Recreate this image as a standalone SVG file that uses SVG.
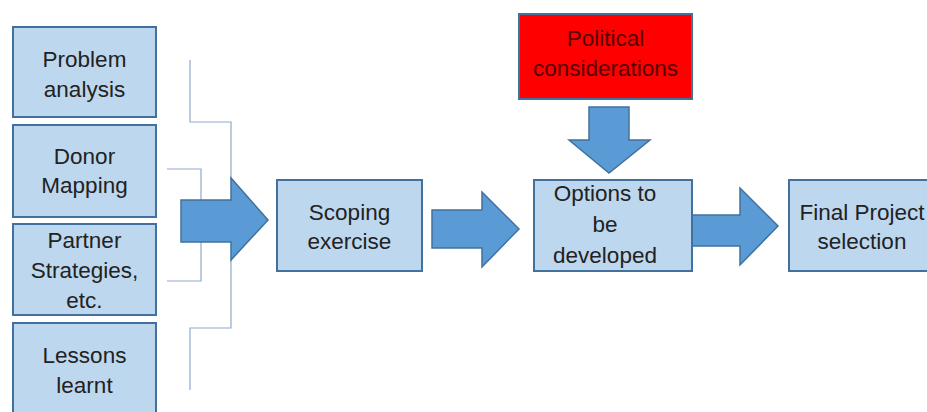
<svg xmlns="http://www.w3.org/2000/svg" width="927" height="412" viewBox="0 0 927 412">
  <style>
    .box { fill: #BDD7EE; stroke: #41719C; stroke-width: 2; }
    .red { fill: #FF0000; stroke: #41719C; stroke-width: 2; }
    .arrow { fill: #5B9BD5; stroke: #41719C; stroke-width: 1.5; }
    .lbl { font-family: "Liberation Sans", Arial, sans-serif; font-size: 22.5px; fill: #222222; text-anchor: middle; }
    .lbl-red { fill: #550000; }
    .bracket { fill: none; stroke: #8FAACC; stroke-width: 1.2; }
  </style>
  <rect width="927" height="412" fill="#FFFFFF"/>

  <!-- input boxes -->
  <g id="problem-analysis">
    <rect class="box" x="13" y="27" width="143" height="90"/>
    <text class="lbl" x="84.5" y="67">Problem</text>
    <text class="lbl" x="84.5" y="97">analysis</text>
  </g>
  <g id="donor-mapping">
    <rect class="box" x="13" y="125" width="143" height="92"/>
    <text class="lbl" x="84.5" y="164">Donor</text>
    <text class="lbl" x="84.5" y="193">Mapping</text>
  </g>
  <g id="partner-strategies">
    <rect class="box" x="13" y="224" width="143" height="91"/>
    <text class="lbl" x="84.5" y="248">Partner</text>
    <text class="lbl" x="84.5" y="278">Strategies,</text>
    <text class="lbl" x="84.5" y="308">etc.</text>
  </g>
  <g id="lessons-learnt">
    <rect class="box" x="13" y="323" width="143" height="95"/>
    <text class="lbl" x="84.5" y="363">Lessons</text>
    <text class="lbl" x="84.5" y="393">learnt</text>
  </g>

  <!-- brackets and block arrows -->
  <g id="connectors">
    <path class="bracket" d="M190 60 V122 H231 V180 M231 260 V328 H190 V390"/>
    <path class="bracket" d="M167 169 H201 V203 M201 242 V281 H167"/>
    <polygon class="arrow" points="181,200 231,200 231,178 268,220 231,260 231,242 181,242"/>
    <polygon class="arrow" points="432,210 482,210 482,192 519,229 482,267 482,248 432,248"/>
    <polygon class="arrow" points="691,215 740,215 740,188 778,226 740,265 740,246 691,246"/>
    <polygon class="arrow" points="589,107 629,107 629,140 650,140 609,173 569,140 589,140"/>
  </g>

  <g id="scoping-exercise">
    <rect class="box" x="277" y="180" width="145" height="91"/>
    <text class="lbl" x="349.5" y="220">Scoping</text>
    <text class="lbl" x="349.5" y="249">exercise</text>
  </g>

  <g id="political-considerations">
    <rect class="red" x="519" y="14" width="173" height="85"/>
    <text class="lbl lbl-red" x="605.5" y="46">Political</text>
    <text class="lbl lbl-red" x="605.5" y="76">considerations</text>
  </g>

  <g id="options-developed">
    <rect class="box" x="534" y="180" width="158" height="91"/>
    <text class="lbl" x="605" y="201">Options to</text>
    <text class="lbl" x="605" y="232">be</text>
    <text class="lbl" x="605" y="263">developed</text>
  </g>

  <g id="final-selection">
    <rect class="box" x="789" y="180" width="150" height="91"/>
    <text class="lbl" x="862" y="220">Final Project</text>
    <text class="lbl" x="862" y="249">selection</text>
  </g>
</svg>
